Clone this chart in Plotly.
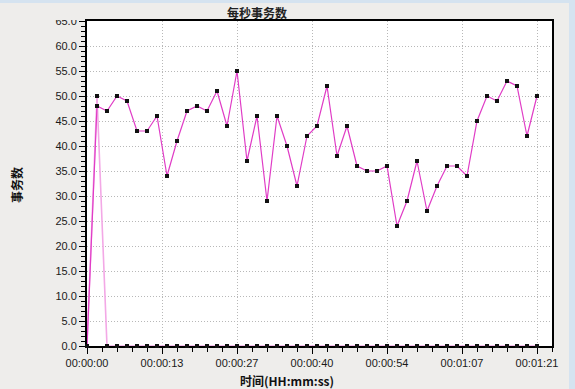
import plotly.graph_objects as go

# ---- data ----
times_s = [0, 1.8, 3.6, 5.4, 7.2, 9, 10.8, 12.6, 14.4, 16.2, 18, 19.8, 21.6, 23.4, 25.2,
           27, 28.8, 30.6, 32.4, 34.2, 36, 37.8, 39.6, 41.4, 43.2, 45, 46.8, 48.6, 50.4,
           52.2, 54, 55.8, 57.6, 59.4, 61.2, 63, 64.8, 66.6, 68.4, 70.2, 72, 73.8, 75.6,
           77.4, 79.2, 81]
tps_main = [0, 48, 47, 50, 49, 43, 43, 46, 34, 41, 47, 48, 47, 51, 44, 55, 37, 46, 29, 46,
            40, 32, 42, 44, 52, 38, 44, 36, 35, 35, 36, 24, 29, 37, 27, 32, 36, 36, 34, 45,
            50, 49, 53, 52, 42, 50]
tps_other = [0, 50] + [0] * 44
x_tick_vals = [0, 13.5, 27, 40.5, 54, 67.5, 81]
x_tick_text = ["00:00:00", "00:00:13", "00:00:27", "00:00:40", "00:00:54", "00:01:07", "00:01:21"]
y_tick_vals = [0, 5, 10, 15, 20, 25, 30, 35, 40, 45, 50, 55, 60, 65]

BG = "#EEEDEB"
BLUE = "#D5E3F0"
W, H = 575, 389
ML, MR, MT, MB = 87, 23, 21, 43
PW = W - ML - MR
PH = H - MT - MB


def px_x(p):
    return (p - ML) / PW


def px_y(p):
    return (H - MB - p) / PH


fig = go.Figure()
fig.add_trace(go.Scatter(
    x=times_s, y=tps_other, mode="lines+markers",
    line=dict(color="#F3A8E6", width=1.6),
    marker=dict(symbol="square", size=4, color="#111111"),
    cliponaxis=False, showlegend=False))
fig.add_trace(go.Scatter(
    x=times_s, y=tps_main, mode="lines+markers",
    line=dict(color="#E03CC6", width=1.2),
    marker=dict(symbol="square", size=4, color="#111111"),
    cliponaxis=False, showlegend=False))

font_ticks = dict(family="Liberation Sans, Arial, sans-serif", size=11, color="#1a1a1a")
GRID = dict(showgrid=True, gridcolor="#B8B8B8", griddash="1px,2px", gridwidth=1)

fig.update_xaxes(
    range=[0, PW / (75 / 13.5)], tickvals=x_tick_vals, ticktext=x_tick_text,
    ticks="outside", ticklen=6, tickwidth=1, tickcolor="#000",
    minor=dict(dtick=2.7, tick0=0, ticks="outside", ticklen=4, tickcolor="#000", showgrid=False),
    showline=True, linecolor="#000", linewidth=2, mirror=True,
    zeroline=False, tickfont=font_ticks, layer="below traces", **GRID)
fig.update_yaxes(
    range=[0, 65], tickvals=y_tick_vals, tickformat=".1f",
    ticks="outside", ticklen=6, tickwidth=1, tickcolor="#000",
    minor=dict(dtick=1, tick0=0, ticks="outside", ticklen=4, tickcolor="#000", showgrid=False),
    showline=True, linecolor="#000", linewidth=2, mirror=True,
    zeroline=False, tickfont=font_ticks, layer="below traces", **GRID)

cjk = "Noto Sans CJK SC, sans-serif"
fig.update_layout(
    width=W, height=H,
    margin=dict(l=ML, r=MR, t=MT, b=MB, pad=0),
    paper_bgcolor=BG, plot_bgcolor="white",
    shapes=[
        # cover that clips the top half of the "65.0" label
        dict(type="rect", xref="paper", yref="paper", x0=px_x(20), x1=px_x(80),
             y0=px_y(20), y1=px_y(3), fillcolor=BG, line=dict(width=0), layer="above"),
        dict(type="rect", xref="paper", yref="paper", x0=px_x(0), x1=px_x(W),
             y0=px_y(3), y1=px_y(0), fillcolor=BLUE, line=dict(width=0), layer="above"),
        dict(type="rect", xref="paper", yref="paper", x0=px_x(569), x1=px_x(W),
             y0=px_y(H), y1=px_y(0), fillcolor=BLUE, line=dict(width=0), layer="above"),
    ],
    annotations=[
        dict(text="<b>每秒事务数</b>", xref="paper", yref="paper", x=px_x(257), y=px_y(12),
             showarrow=False, xanchor="center", yanchor="middle",
             font=dict(family=cjk, size=12, color="#222")),
        dict(text="<b>时间(HH:mm:ss)</b>", xref="paper", yref="paper", x=px_x(287), y=px_y(380),
             showarrow=False, xanchor="center", yanchor="middle",
             font=dict(family=cjk, size=12, color="#111")),
        dict(text="<b>事务数</b>", xref="paper", yref="paper", x=px_x(16), y=px_y(185),
             showarrow=False, xanchor="center", yanchor="middle", textangle=-90,
             font=dict(family=cjk, size=12, color="#111")),
    ],
)

fig.write_html("out.html")
